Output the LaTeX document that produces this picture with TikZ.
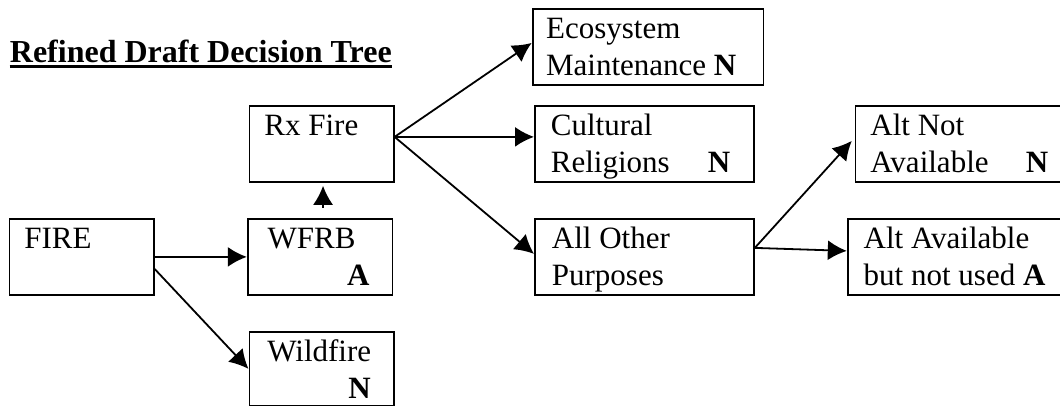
\documentclass[tikz,border=0pt]{standalone}
\usepackage{fontspec}
\setmainfont{Liberation Serif}
\usetikzlibrary{arrows.meta}

\begin{document}
\begin{tikzpicture}[x=0.5pt,y=-0.5pt,font=\fontsize{15.5pt}{18.5pt}\selectfont]
	\clip (0,0) rectangle (1060,406);
	\tikzstyle{BoxStyle}=[draw,line width=0.9pt,anchor=north west,align=flush left,inner xsep=7.5pt,inner ysep=0pt,text height=15pt,text depth=23pt]
	\tikzstyle{LinkStyle}=[line width=0.9pt,-{Latex[length=9.5pt,width=10pt]}]
	\node[anchor=base west,inner sep=0pt,font=\fontsize{16pt}{19pt}\selectfont\bfseries] (title) at (9.5,62.5) {Refined Draft Decision Tree};
	\draw[line width=1.5pt] ([yshift=-2.25pt]title.base west) -- ([yshift=-2.25pt]title.base east);
	\node[BoxStyle,text width=57.15pt] (fire) at (8.5,218) {FIRE};
	\node[BoxStyle,inner xsep=10pt,text width=52.35pt] (wfrb) at (246.8,218) {WFRB\\\hspace*{39.75pt}\textbf{A}};
	\node[BoxStyle,inner xsep=9pt,text width=54.15pt,text depth=22pt] (wild) at (248.5,331) {Wildfire\\\hspace*{40.5pt}\textbf{N}};
	\node[BoxStyle,text width=57.15pt] (rx) at (248.5,105) {Rx Fire};
	\node[BoxStyle,inner xsep=6.75pt,text width=101.95pt] (eco) at (531.7,8) {Ecosystem\\Maintenance \textbf{N}};
	\node[BoxStyle,inner xsep=8pt,text width=93.5pt] (cult) at (534,105) {Cultural\\\makebox[78.5pt][l]{Religions}\textbf{N}};
	\node[BoxStyle,inner xsep=8.5pt,text width=92.5pt] (other) at (534,218) {All Other\\Purposes};
	\node[BoxStyle,text width=92.5pt] (altno) at (854.5,105) {Alt Not\\\makebox[77.75pt][l]{Available}\textbf{N}};
	\node[BoxStyle,inner xsep=8pt,text width=102pt] (altav) at (846.8,218) {Alt Available\\but not used \textbf{A}};
	\draw[LinkStyle] (fire.east) -- (wfrb.west);
	\draw[LinkStyle] ([yshift=-6pt]fire.east) -- (wild.west);
	\draw[LinkStyle,shorten <=5pt,shorten >=1.5pt] ([xshift=1.5pt]wfrb.north) -- ([xshift=1.5pt]wfrb.north |- rx.south);
	\coordinate (rxout) at ([yshift=3.5pt]rx.east);
	\draw[LinkStyle] (rxout) -- ([yshift=2pt]eco.west);
	\draw[LinkStyle] (rxout) -- (rxout -| cult.west);
	\draw[LinkStyle] (rxout) -- ([yshift=1.5pt]other.west);
	\coordinate (otherout) at ([yshift=4.5pt]other.east);
	\draw[LinkStyle,shorten >=2pt] (otherout) -- ([yshift=3pt]altno.west);
	\draw[LinkStyle] (otherout) -- ([yshift=3pt]altav.west);
\end{tikzpicture}
\end{document}
